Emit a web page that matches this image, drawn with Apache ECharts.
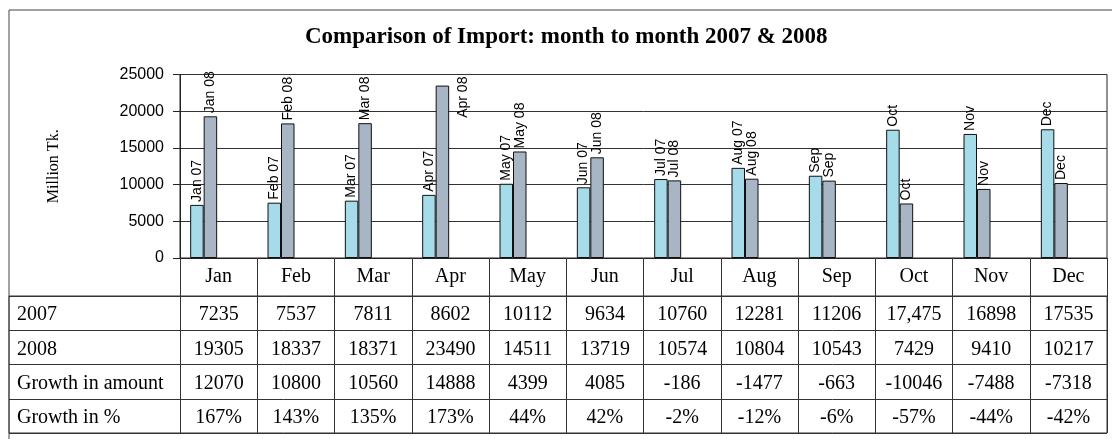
<!DOCTYPE html>
<html>
<head>
<meta charset="utf-8">
<title>Comparison of Import</title>
<script src="https://cdn.jsdelivr.net/npm/echarts@6/dist/echarts.min.js"></script>
<style>
html, body { margin: 0; padding: 0; background: #fff; }
#chart { width: 1112px; height: 439px; }
</style>
</head>
<body>
<div id="chart"></div>
<script>
var months = ['Jan', 'Feb', 'Mar', 'Apr', 'May', 'Jun', 'Jul', 'Aug', 'Sep', 'Oct', 'Nov', 'Dec'];
var imports2007 = [7235, 7537, 7811, 8602, 10112, 9634, 10760, 12281, 11206, 17475, 16898, 17535];
var imports2008 = [19305, 18337, 18371, 23490, 14511, 13719, 10574, 10804, 10543, 7429, 9410, 10217];
var growthAmount = [12070, 10800, 10560, 14888, 4399, 4085, -186, -1477, -663, -10046, -7488, -7318];
var growthPct = [167, 143, 135, 173, 44, 42, -2, -12, -6, -57, -44, -42];
var labels2007 = ['Jan 07', 'Feb 07', 'Mar 07', 'Apr 07', 'May 07', 'Jun 07', 'Jul 07', 'Aug 07', 'Sep', 'Oct', 'Nov', 'Dec'];
var labels2008 = ['Jan 08', 'Feb 08', 'Mar 08', 'Apr 08', 'May 08', 'Jun 08', 'Jul 08', 'Aug 08', 'Sep', 'Oct', 'Nov', 'Dec'];
var yTicks = [0, 5000, 10000, 15000, 20000, 25000];

var serif = '"Liberation Serif", "Times New Roman", serif';
var sans = '"Liberation Sans", Arial, sans-serif';

// the 2007 row prints Oct with a thousands comma in the source table
var table2007 = imports2007.map(function (v, i) {
    return months[i] === 'Oct' ? v.toLocaleString('en-US') : String(v);
});
var tableRows = [
    { name: '2007', cells: table2007 },
    { name: '2008', cells: imports2008.map(String) },
    { name: 'Growth in amount', cells: growthAmount.map(String) },
    { name: 'Growth in %', cells: growthPct.map(function (v) { return v + '%'; }) }
];

var axisY = 258, rowTop = 296, rowH = 34.25;

// each table row is a label-only category axis hung under the plot
var rowAxes = tableRows.map(function (row, i) {
    return {
        type: 'category',
        gridIndex: 0,
        position: 'bottom',
        offset: rowTop + rowH * (i + 0.5) + 2 - axisY,
        data: row.cells,
        name: row.name,
        nameLocation: 'start',
        nameGap: 163,
        nameTextStyle: { align: 'left', verticalAlign: 'middle', fontFamily: serif, fontSize: 20, color: '#000' },
        axisLine: { show: false },
        axisTick: { show: false },
        splitLine: { show: false },
        axisLabel: { interval: 0, margin: 0, verticalAlign: 'middle', fontFamily: serif, fontSize: 20, color: '#000' }
    };
});

var barLabel = {
    show: true,
    position: 'top',
    rotate: 90,
    align: 'left',
    verticalAlign: 'middle',
    distance: 3,
    fontFamily: sans,
    fontSize: 14,
    color: '#000'
};

var chart = echarts.init(document.getElementById('chart'));
var option = {
    animation: false,
    backgroundColor: '#fff',
    title: {
        text: 'Comparison of Import: month to month 2007 & 2008',
        left: 305,
        top: 26,
        padding: 0,
        textStyle: { fontFamily: serif, fontWeight: 'bold', fontSize: 23, color: '#000' }
    },
    grid: [
        // plot frame + table header
        { left: 180, right: 5, top: 74.5, bottom: 439 - axisY, show: true, borderColor: '#222', borderWidth: 1 },
        // bars sit a little left of the table columns in the source
        { left: 165, right: 19, top: 74.5, bottom: 439 - axisY },
        // table body
        { left: 9, right: 5, top: rowTop, bottom: 439 - (rowTop + rowH * 4), show: true, borderColor: '#333', borderWidth: 1 },
        // outer box, only its left and top edges fall inside the page
        { left: 9, top: 10, width: 1300, height: 600, outerBoundsMode: 'none', show: true, borderColor: '#444', borderWidth: 1 }
    ],
    xAxis: [
        {
            type: 'category',
            gridIndex: 0,
            data: months,
            axisLine: { show: true, lineStyle: { color: '#222', width: 1 } },
            // column rules of the table are the long ticks of the month axis
            axisTick: { show: true, interval: 0, length: rowTop + rowH * 4 - axisY, lineStyle: { color: '#333', width: 1 } },
            axisLabel: { interval: 0, margin: 19, verticalAlign: 'middle', fontFamily: serif, fontSize: 20, color: '#000' }
        },
        { type: 'category', gridIndex: 1, data: months, show: false },
        { type: 'value', gridIndex: 2, show: false },
        { type: 'value', gridIndex: 3, show: false }
    ].concat(rowAxes),
    yAxis: [
        {
            type: 'value',
            gridIndex: 0,
            min: yTicks[0],
            max: yTicks[yTicks.length - 1],
            interval: 5000,
            name: 'Million Tk.',
            nameLocation: 'middle',
            nameGap: 118,
            nameRotate: 90,
            nameTextStyle: { fontFamily: serif, fontSize: 16, color: '#000' },
            axisLine: { show: true, lineStyle: { color: '#222' } },
            axisTick: { show: true, length: 7, lineStyle: { color: '#222' } },
            axisLabel: {
                margin: 16, fontFamily: sans, fontSize: 16, color: '#000',
                formatter: function (v) { return String(v); }
            },
            splitLine: { show: true, lineStyle: { color: '#333', width: 1 } }
        },
        { type: 'value', gridIndex: 1, min: yTicks[0], max: yTicks[yTicks.length - 1], show: false },
        {
            type: 'category',
            gridIndex: 2,
            inverse: true,
            data: tableRows.map(function (r) { return r.name; }),
            axisLine: { show: false },
            axisTick: { show: false },
            axisLabel: { show: false },
            splitLine: { show: true, interval: 0, lineStyle: { color: '#333', width: 1 } }
        },
        { type: 'value', gridIndex: 3, show: false }
    ],
    series: [
        {
            name: '2007',
            type: 'bar',
            xAxisIndex: 1,
            yAxisIndex: 1,
            barWidth: 13.5,
            barGap: '0%',
            data: imports2007,
            itemStyle: { color: '#a6dbe9', borderColor: '#111', borderWidth: 1 },
            label: Object.assign({}, barLabel, {
                formatter: function (p) { return labels2007[p.dataIndex]; }
            })
        },
        {
            name: '2008',
            type: 'bar',
            xAxisIndex: 1,
            yAxisIndex: 1,
            barWidth: 13.5,
            barGap: '0%',
            // Apr 08 label sits beside its bar in the source
            data: imports2008.map(function (v, i) {
                if (months[i] !== 'Apr') return v;
                return { value: v, label: { position: ['200%', -9], align: 'right' } };
            }),
            itemStyle: { color: '#a7b5c5', borderColor: '#111', borderWidth: 1 },
            label: Object.assign({}, barLabel, {
                formatter: function (p) { return labels2008[p.dataIndex]; }
            })
        }
    ]
};
chart.setOption(option);
</script>
</body>
</html>
